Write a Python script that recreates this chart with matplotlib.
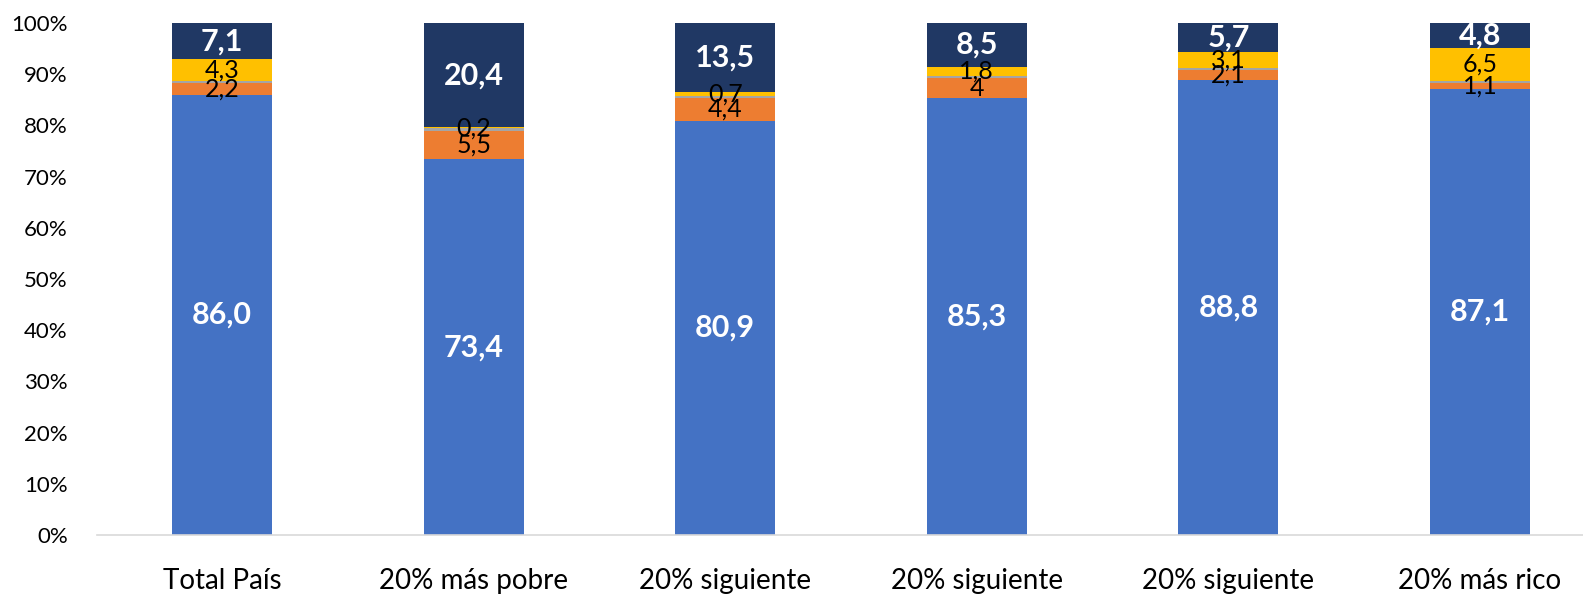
import matplotlib
matplotlib.use("Agg")
import matplotlib.pyplot as plt
import numpy as np

categories = ["Total País", "20% más pobre", "20% siguiente", "20% siguiente", "20% siguiente", "20% más rico"]
blue = [86.0, 73.4, 80.9, 85.3, 88.8, 87.1]
orange = [2.2, 5.5, 4.4, 4.0, 2.1, 1.1]
gray = [0.4, 0.5, 0.5, 0.4, 0.3, 0.5]
yellow = [4.3, 0.2, 0.7, 1.8, 3.1, 6.5]
navy = [7.1, 20.4, 13.5, 8.5, 5.7, 4.8]

blue_lbl = ["86,0", "73,4", "80,9", "85,3", "88,8", "87,1"]
orange_lbl = ["2,2", "5,5", "4,4", "4", "2,1", "1,1"]
yellow_lbl = ["4,3", "0,2", "0,7", "1,8", "3,1", "6,5"]
navy_lbl = ["7,1", "20,4", "13,5", "8,5", "5,7", "4,8"]

plt.rcParams["font.family"] = ["Lato", "DejaVu Sans"]

W, H = 1583, 595
fig = plt.figure(figsize=(W / 100, H / 100), dpi=100)
ax = fig.add_axes([97 / W, 60 / H, (W - 97) / W, 512 / H])

x = np.arange(len(categories))
w = 0.397
series = [
    (blue, "#4472C4", blue_lbl, "white", "bold", 22),
    (orange, "#ED7D31", orange_lbl, "black", "normal", 18),
    (gray, "#A5A5A5", None, None, None, None),
    (yellow, "#FFC000", yellow_lbl, "black", "normal", 18),
    (navy, "#203864", navy_lbl, "white", "bold", 22),
]
bottom = np.zeros(len(categories))
for vals, col, lbls, tc, fw, fs in series:
    vals = np.array(vals)
    ax.bar(x, vals, w, bottom=bottom, color=col, edgecolor="none")
    if lbls is not None:
        for i in range(len(x)):
            ax.text(x[i], bottom[i] + vals[i] / 2, lbls[i], ha="center", va="center",
                    color=tc, fontweight=fw, fontsize=fs)
    bottom += vals

ax.set_xlim(-125 / 251.6, 5 + 103 / 251.6)
ax.set_ylim(0, 100)
ax.set_yticks(np.arange(0, 101, 10))
ax.set_yticklabels([f"{v}%" for v in range(0, 101, 10)], fontsize=16)
ax.set_xticks(x)
ax.set_xticklabels(categories, fontsize=20)
ax.tick_params(axis="y", length=0, pad=21)
ax.tick_params(axis="x", length=0, pad=24)
for s in ["top", "right", "left"]:
    ax.spines[s].set_visible(False)
ax.spines["bottom"].set_color("#D9D9D9")
ax.spines["bottom"].set_linewidth(1.2)
ax.patch.set_alpha(0)

fig.savefig("out.png", dpi=100)
